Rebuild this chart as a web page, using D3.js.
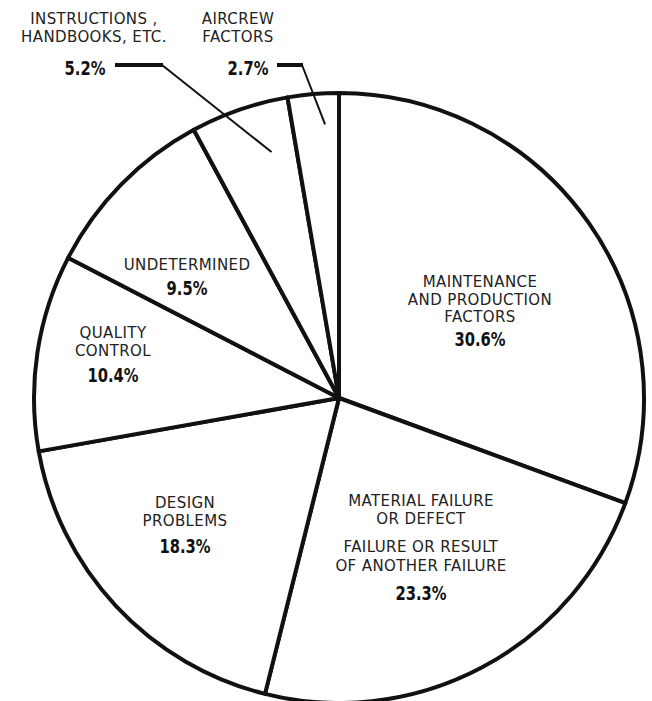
<!DOCTYPE html>
<html>
<head>
<meta charset="utf-8">
<script src="https://cdn.jsdelivr.net/npm/d3@7"></script>
<style>
  body { margin: 0; background: #fff; }
  svg { display: block; }
  .lbl { font-family: "DejaVu Sans", sans-serif; font-size: 15px; fill: #222; letter-spacing: 0.4px; }
  .pct { font-family: "DejaVu Sans Condensed", "DejaVu Sans", sans-serif; font-weight: bold; font-size: 20px; fill: #111; }
</style>
</head>
<body>
<div id="chart"></div>
<script>
// slices clockwise from 12 o'clock
let categories = ["Maintenance and production factors", "Material failure or defect", "Design problems",
  "Quality control", "Undetermined", "Instructions, handbooks, etc.", "Aircrew factors"];
let values = [30.6, 23.3, 18.3, 10.4, 9.5, 5.2, 2.7];
let labelLines = [
  ["MAINTENANCE", "AND  PRODUCTION", "FACTORS"],
  ["MATERIAL FAILURE", "OR DEFECT", "", "FAILURE OR RESULT", "OF ANOTHER FAILURE"],
  ["DESIGN", "PROBLEMS"],
  ["QUALITY", "CONTROL"],
  ["UNDETERMINED"],
  ["INSTRUCTIONS ,", "HANDBOOKS, ETC."],
  ["AIRCREW", "FACTORS"]
];

let width = 652,
    height = 701,
    cx = 339, cy = 398,
    radius = 305;

const svg = d3.select("#chart")
  .append("svg")
  .attr("width", width)
  .attr("height", height);

let pie = d3.pie().sort(null).value(d => d);
let arcs = pie(values);

let arc = d3.arc().innerRadius(0).outerRadius(radius);

let g = svg.append("g").attr("transform", `translate(${cx},${cy})`);

g.selectAll("path.slice")
  .data(arcs)
  .join("path")
  .attr("class", "slice")
  .attr("d", arc)
  .attr("fill", "#fff")
  .attr("stroke", "#111")
  .attr("stroke-width", 4)
  .attr("stroke-linejoin", "round");

// label layout: text block anchor (x, first baseline), relative to page
let labelPos = [
  { x: 480, y: 287, pctY: 346 },
  { x: 421, y: 506, pctY: 600 },
  { x: 185, y: 508, pctY: 553 },
  { x: 113, y: 338, pctY: 382 },
  { x: 187, y: 270, pctY: 295 },
  { x: 94,  y: 24,  pctY: 75, pctX: 85 },
  { x: 238, y: 24,  pctY: 75, pctX: 248 }
];
let lineGap = 17.5;

arcs.forEach((a, i) => {
  let p = labelPos[i];
  let t = svg.append("text").attr("class", "lbl").attr("text-anchor", "middle");
  let dy = 0;
  labelLines[i].forEach((ln, k) => {
    if (ln === "") { dy += 11; return; }
    t.append("tspan").attr("x", p.x).attr("y", p.y + dy).text(ln);
    dy += (i === 1 && k >= 3) ? 19 : lineGap;
  });
  svg.append("text")
    .attr("class", "pct")
    .attr("text-anchor", "middle")
    .attr("transform", `translate(${p.pctX ?? p.x},${p.pctY}) scale(0.82,1)`)
    .text(values[i] + "%");
});

// leader lines for the two thin slices
let leaders = [
  { i: 5, x0: 115, x1: 163, y: 65, r: 255 },
  { i: 6, x0: 277, x1: 303, y: 65, r: 274 }
];
for (let l of leaders) {
  let a = arcs[l.i];
  let ang = a.startAngle + 0.7 * (a.endAngle - a.startAngle);
  let [px, py] = d3.pointRadial(ang, l.r);
  svg.append("path")
    .attr("d", `M${l.x0},${l.y}H${l.x1}`)
    .attr("stroke", "#111").attr("stroke-width", 4).attr("fill", "none");
  svg.append("path")
    .attr("d", `M${l.x1 - 1},${l.y}L${cx + px},${cy + py}`)
    .attr("stroke", "#111").attr("stroke-width", 2).attr("fill", "none");
}
</script>
</body>
</html>
